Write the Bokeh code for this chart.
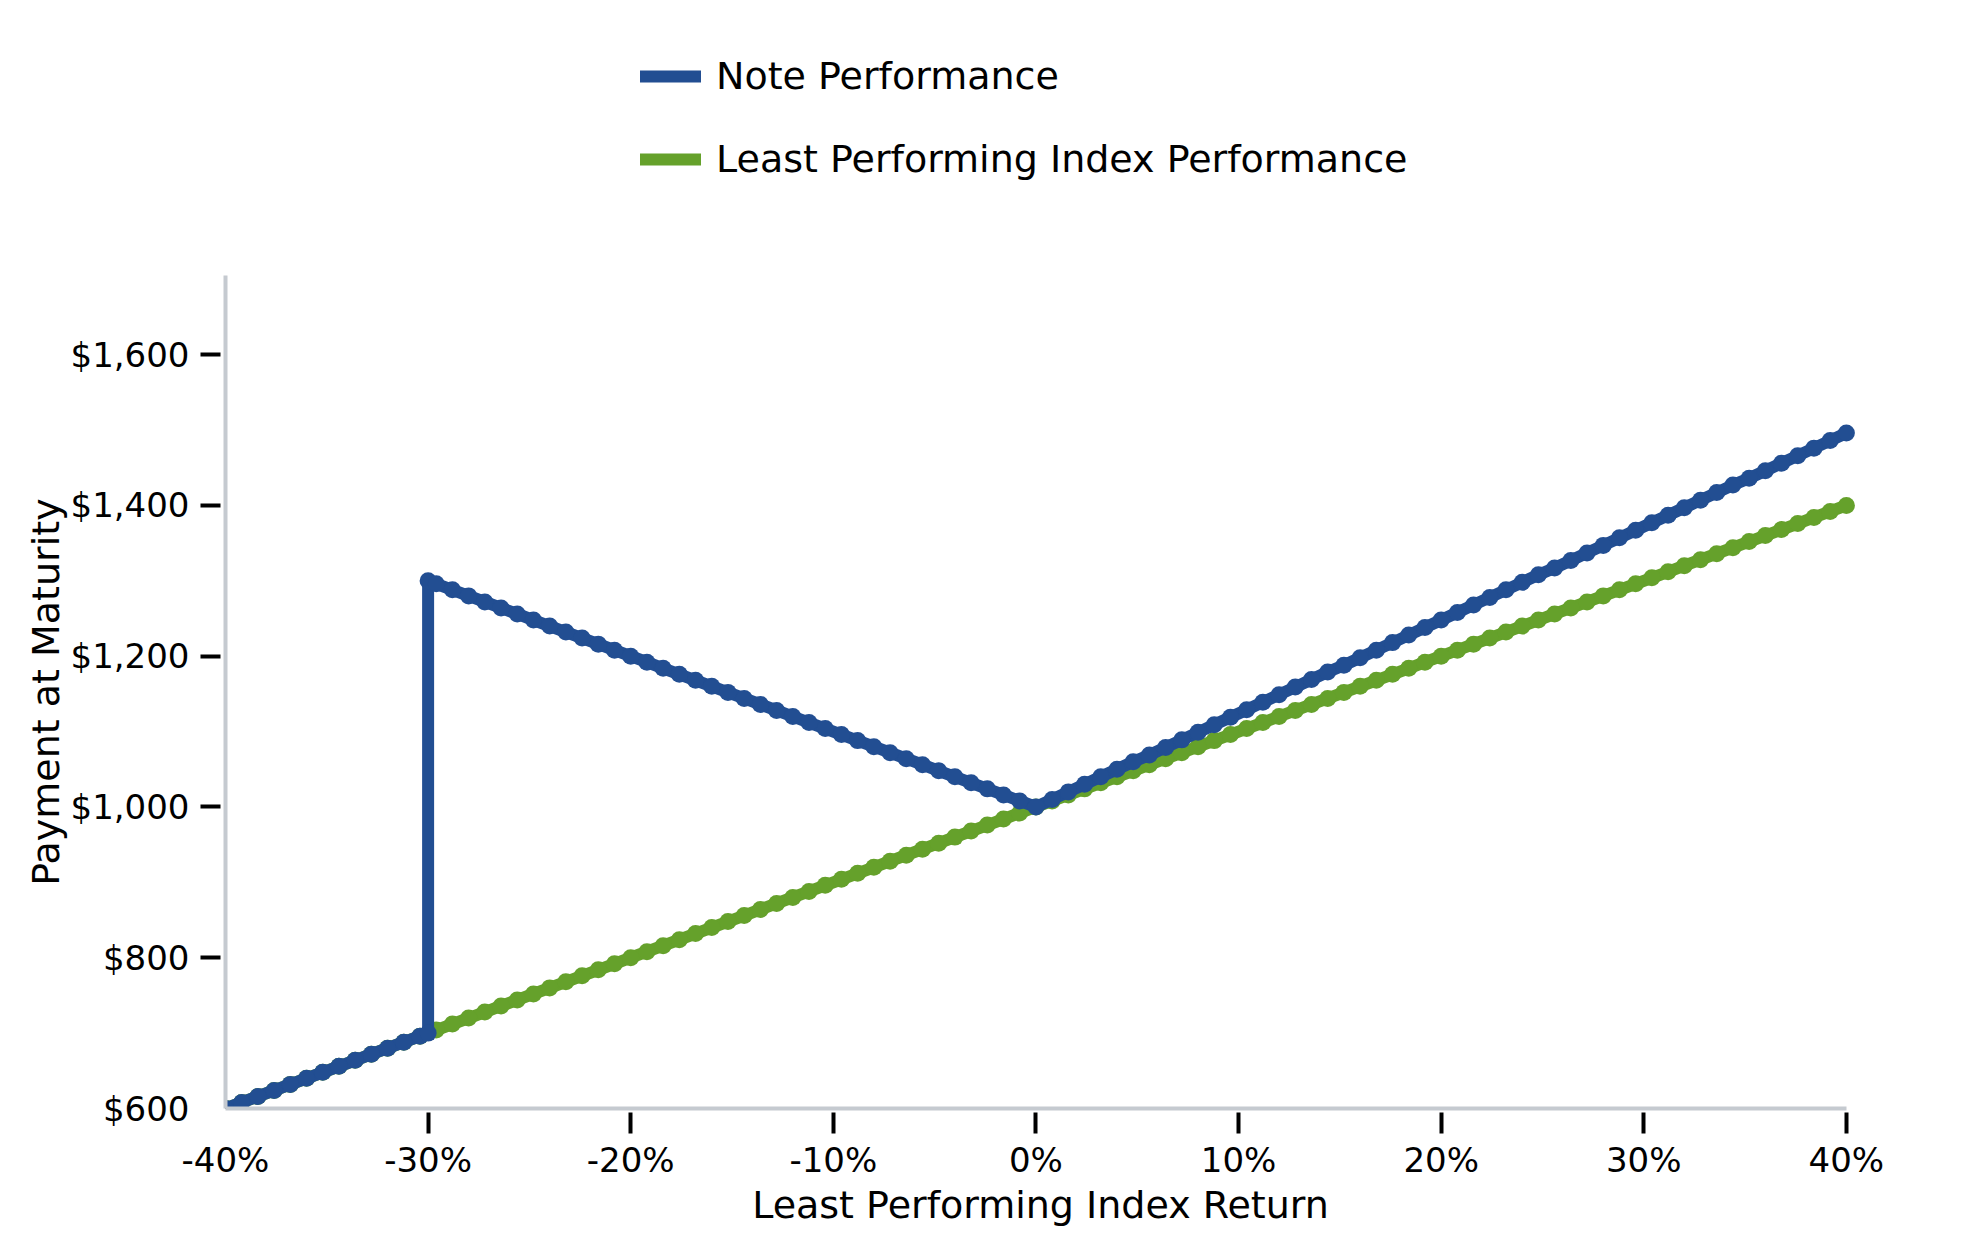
from bokeh.plotting import figure
from bokeh.layouts import column
from bokeh.models import FixedTicker, Legend, LegendItem, Range1d
from bokeh.embed import file_html
from bokeh.resources import INLINE

# Least performing index return (%) sampled every 0.8%
index_return = [
    -40.0, -39.2, -38.4, -37.6, -36.8, -36.0, -35.2, -34.4, -33.6, -32.8,
    -32.0, -31.2, -30.4, -29.6, -28.8, -28.0, -27.2, -26.4, -25.6, -24.8,
    -24.0, -23.2, -22.4, -21.6, -20.8, -20.0, -19.2, -18.4, -17.6, -16.8,
    -16.0, -15.2, -14.4, -13.6, -12.8, -12.0, -11.2, -10.4, -9.6, -8.8,
    -8.0, -7.2, -6.4, -5.6, -4.8, -4.0, -3.2, -2.4, -1.6, -0.8,
    0.0, 0.8, 1.6, 2.4, 3.2, 4.0, 4.8, 5.6, 6.4, 7.2,
    8.0, 8.8, 9.6, 10.4, 11.2, 12.0, 12.8, 13.6, 14.4, 15.2,
    16.0, 16.8, 17.6, 18.4, 19.2, 20.0, 20.8, 21.6, 22.4, 23.2,
    24.0, 24.8, 25.6, 26.4, 27.2, 28.0, 28.8, 29.6, 30.4, 31.2,
    32.0, 32.8, 33.6, 34.4, 35.2, 36.0, 36.8, 37.6, 38.4, 39.2,
    40.0,
]
index_payment = [
    600, 608, 616, 624, 632, 640, 648, 656, 664, 672,
    680, 688, 696, 704, 712, 720, 728, 736, 744, 752,
    760, 768, 776, 784, 792, 800, 808, 816, 824, 832,
    840, 848, 856, 864, 872, 880, 888, 896, 904, 912,
    920, 928, 936, 944, 952, 960, 968, 976, 984, 992,
    1000, 1008, 1016, 1024, 1032, 1040, 1048, 1056, 1064, 1072,
    1080, 1088, 1096, 1104, 1112, 1120, 1128, 1136, 1144, 1152,
    1160, 1168, 1176, 1184, 1192, 1200, 1208, 1216, 1224, 1232,
    1240, 1248, 1256, 1264, 1272, 1280, 1288, 1296, 1304, 1312,
    1320, 1328, 1336, 1344, 1352, 1360, 1368, 1376, 1384, 1392,
    1400,
]

note_return = [
    -40.0, -39.2, -38.4, -37.6, -36.8, -36.0, -35.2, -34.4, -33.6, -32.8,
    -32.0, -31.2, -30.4, -30.0, -30.0, -29.6, -28.8, -28.0, -27.2, -26.4, -25.6, -24.8,
    -24.0, -23.2, -22.4, -21.6, -20.8, -20.0, -19.2, -18.4, -17.6, -16.8,
    -16.0, -15.2, -14.4, -13.6, -12.8, -12.0, -11.2, -10.4, -9.6, -8.8,
    -8.0, -7.2, -6.4, -5.6, -4.8, -4.0, -3.2, -2.4, -1.6, -0.8,
    0.0, 0.8, 1.6, 2.4, 3.2, 4.0, 4.8, 5.6, 6.4, 7.2,
    8.0, 8.8, 9.6, 10.4, 11.2, 12.0, 12.8, 13.6, 14.4, 15.2,
    16.0, 16.8, 17.6, 18.4, 19.2, 20.0, 20.8, 21.6, 22.4, 23.2,
    24.0, 24.8, 25.6, 26.4, 27.2, 28.0, 28.8, 29.6, 30.4, 31.2,
    32.0, 32.8, 33.6, 34.4, 35.2, 36.0, 36.8, 37.6, 38.4, 39.2,
    40.0,
]
note_payment = [
    600, 608, 616, 624, 632, 640, 648, 656, 664, 672,
    680, 688, 696, 700, 1300, 1296, 1288, 1280, 1272, 1264, 1256, 1248,
    1240, 1232, 1224, 1216, 1208, 1200, 1192, 1184, 1176, 1168,
    1160, 1152, 1144, 1136, 1128, 1120, 1112, 1104, 1096, 1088,
    1080, 1072, 1064, 1056, 1048, 1040, 1032, 1024, 1016, 1008,
    1000, 1010, 1020, 1030, 1040, 1050, 1060, 1069, 1079, 1089,
    1099, 1109, 1119, 1129, 1139, 1149, 1159, 1169, 1179, 1188,
    1198, 1208, 1218, 1228, 1238, 1248, 1258, 1268, 1278, 1288,
    1298, 1308, 1317, 1327, 1337, 1347, 1357, 1367, 1377, 1387,
    1397, 1407, 1417, 1427, 1436, 1446, 1456, 1466, 1476, 1486,
    1496,
]

x_ticks = [-40, -30, -20, -10, 0, 10, 20, 30, 40]
x_tick_labels = ["-40%", "-30%", "-20%", "-10%", "0%", "10%", "20%", "30%", "40%"]
y_ticks = [600, 800, 1000, 1200, 1400, 1600]
y_tick_labels = ["$600", "$800", "$1,000", "$1,200", "$1,400", "$1,600"]
x_marked = x_ticks[1:]
y_marked = y_ticks[1:]
x_axis_bounds = (-40, 40)

BLUE = "#224e92"
GREEN = "#65a12b"
FONT = "DejaVu Sans"
LINE_W = 12
DOT = 17

# ---- main chart ----
p = figure(
    frame_width=1630, frame_height=833,
    x_range=Range1d(-40, 40.45), y_range=Range1d(600, 1705),
    output_backend="svg", toolbar_location=None,
    min_border_left=225, min_border_top=75, min_border_bottom=110, min_border_right=50,
)
p.outline_line_color = None
p.grid.visible = False
p.background_fill_color = "white"

p.line(index_return, index_payment, line_color=GREEN, line_width=LINE_W, line_cap="round")
p.scatter(index_return, index_payment, size=DOT, fill_color=GREEN, line_color=None)
p.line(note_return, note_payment, line_color=BLUE, line_width=LINE_W, line_cap="round")
p.scatter(note_return, note_payment, size=DOT, fill_color=BLUE, line_color=None)

for ax, ticks, labels, marked in ((p.xaxis[0], x_ticks, x_tick_labels, x_marked),
                                  (p.yaxis[0], y_ticks, y_tick_labels, y_marked)):
    ax.ticker = FixedTicker(ticks=ticks, minor_ticks=marked)
    ax.major_label_overrides = dict(zip(ticks, labels))
    ax.major_tick_line_color = None
    ax.major_tick_in = 0
    ax.major_tick_out = 0
    ax.minor_tick_line_color = "black"
    ax.minor_tick_line_width = 4
    ax.minor_tick_out = 25
    ax.axis_line_color = "#c5cad0"
    ax.axis_line_width = 4
    ax.major_label_text_font = FONT
    ax.major_label_text_font_size = "34px"
    ax.major_label_text_color = "black"
    ax.axis_label_text_font = FONT
    ax.axis_label_text_font_size = "38px"
    ax.axis_label_text_font_style = "normal"
    ax.axis_label_text_color = "black"

p.xaxis.bounds = x_axis_bounds
p.xaxis.minor_tick_in = -4
p.yaxis.minor_tick_in = -5
p.xaxis.major_label_standoff = 6
p.yaxis.major_label_standoff = 11
p.xaxis.axis_label = "Least Performing Index Return"
p.yaxis.axis_label = "Payment at Maturity"
p.xaxis.axis_label_standoff = 0
p.yaxis.axis_label_standoff = 0

# ---- legend strip above the chart (series drawn out of view, only keys show) ----
top = figure(
    width=1905, height=200, x_axis_type=None, y_axis_type=None,
    x_range=Range1d(0, 1), y_range=Range1d(0, 1),
    output_backend="svg", toolbar_location=None,
    min_border_left=0, min_border_right=0, min_border_top=0, min_border_bottom=0,
)
top.outline_line_color = None
top.grid.visible = False
note_key = top.line(note_return, note_payment, line_color=BLUE, line_width=LINE_W, line_cap="round")
index_key = top.line(index_return, index_payment, line_color=GREEN, line_width=LINE_W, line_cap="round")

legend = Legend(
    items=[LegendItem(label="Note Performance", renderers=[note_key]),
           LegendItem(label="Least Performing Index Performance", renderers=[index_key])],
    location=(415, 19), orientation="vertical",
    padding=0, margin=0, spacing=39,
    glyph_width=61, glyph_height=44, label_height=44, label_standoff=15,
    label_text_font=FONT, label_text_font_size="38px", label_text_color="black",
    border_line_color=None, background_fill_alpha=0,
)
top.add_layout(legend, "center")

layout = column(top, p, spacing=0)
open("out.html", "w").write(file_html(layout, INLINE))
